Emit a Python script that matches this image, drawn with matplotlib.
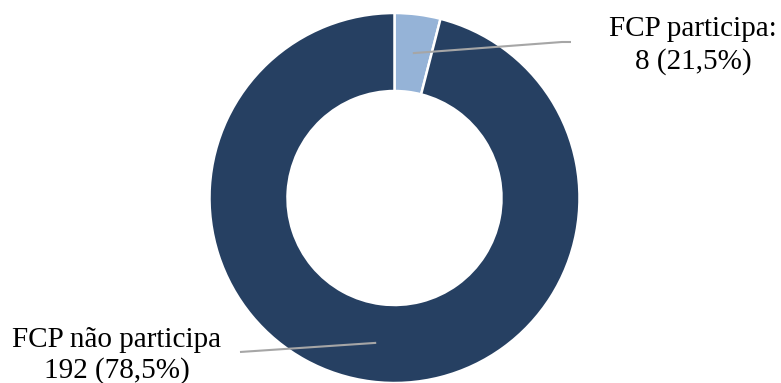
import numpy as np
import matplotlib
matplotlib.use('Agg')
import matplotlib.pyplot as plt

plt.rcParams["font.family"] = ["Liberation Serif", "DejaVu Serif"]

# dados
categorias = ["FCP participa:", "FCP não participa"]
valores = [8, 192]
percentuais = ["21,5%", "78,5%"]
cores = ["#95B3D7", "#264062"]

W, H = 781, 383
fig = plt.figure(figsize=(W / 100, H / 100), dpi=100)
ax = fig.add_axes([0, 0, 1, 1])

centro = (394.5, H - 198)
raio = 185
largura = 78

wedges, _ = ax.pie(valores, colors=cores, startangle=90, counterclock=False,
                   center=centro, radius=raio, frame=True,
                   wedgeprops=dict(width=largura, edgecolor='white', linewidth=1.8))
ax.set_xlim(0, W)
ax.set_ylim(0, H)
ax.set_aspect('equal')
ax.axis('off')

# posições dos rótulos (px a partir do topo) e linhas de chamada
pos_texto = [(693, 36, 69), (117, 347, 378)]
fim_linha = [[(562, 42), (571, 42)], [(240, 352)]]

r_meio = raio - largura / 2
for w, cat, v, p, (tx, y1, y2), pts in zip(wedges, categorias, valores, percentuais,
                                           pos_texto, fim_linha):
    ang = np.deg2rad((w.theta1 + w.theta2) / 2)
    x0 = centro[0] + r_meio * np.cos(ang)
    y0 = centro[1] + r_meio * np.sin(ang)
    xs = [x0] + [q[0] for q in pts]
    ys = [y0] + [H - q[1] for q in pts]
    ax.plot(xs, ys, color='#A6A6A6', lw=1.5, solid_capstyle='butt')
    ax.text(tx, H - y1, cat, ha='center', va='baseline', fontsize=21)
    ax.text(tx, H - y2, f"{v} ({p})", ha='center', va='baseline', fontsize=21)

fig.savefig("out.png", dpi=100)
